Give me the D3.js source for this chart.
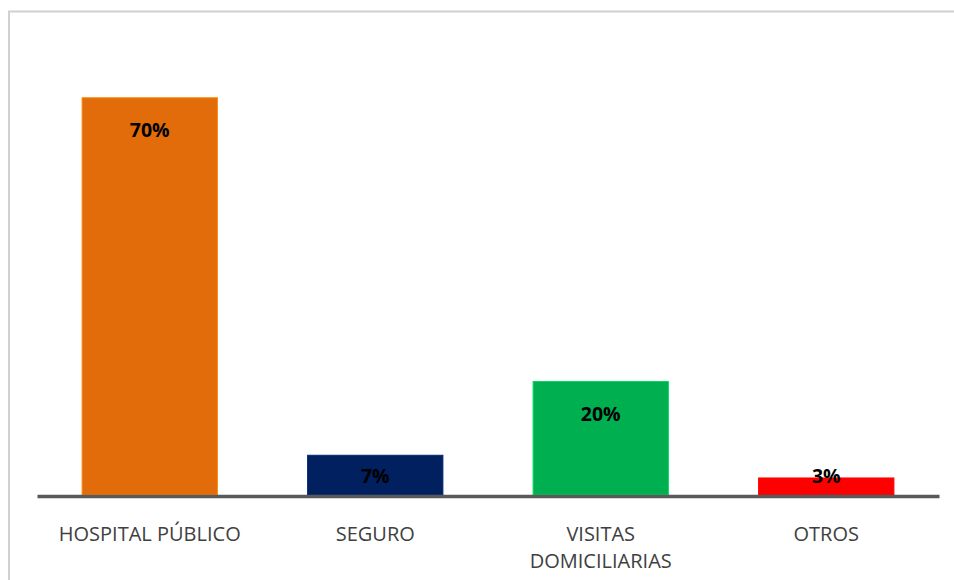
<!DOCTYPE html>
<html>
<head>
<meta charset="utf-8">
<script src="https://cdn.jsdelivr.net/npm/d3@7"></script>
<style>
  html, body { margin: 0; padding: 0; background: #fff; }
  svg { display: block; }
</style>
</head>
<body>
<svg id="chart" width="954" height="580"></svg>
<script>
// Shares of care by provider (percent)
const categories = ["HOSPITAL PÚBLICO", "SEGURO", "VISITAS DOMICILIARIAS", "OTROS"];
const categoryLines = [["HOSPITAL PÚBLICO"], ["SEGURO"], ["VISITAS", "DOMICILIARIAS"], ["OTROS"]];
const values = [70, 7, 20, 3];
const colors = ["#e36c0a", "#002060", "#00b050", "#ff0000"];
const yMax = 80;

const svg = d3.select("#chart");
const W = 954, H = 580;

// Chart area frame (open at right and bottom)
svg.append("path")
  .attr("d", `M9,${H} L9,11.5 L${W},11.5`)
  .attr("fill", "none")
  .attr("stroke", "#d0d0d0")
  .attr("stroke-width", 2);

const plotLeft = 37, plotRight = 939, baseY = 495, topY = 41;

const x = d3.scaleBand()
  .domain(categories)
  .range([plotLeft, plotRight])
  .paddingInner(0.4)
  .paddingOuter(0.2);

const y = d3.scaleLinear()
  .domain([0, yMax])
  .range([baseY, topY]);

const data = categories.map((c, i) => ({ cat: c, value: values[i], color: colors[i], lines: categoryLines[i] }));

// Bars
svg.append("g")
  .selectAll("rect")
  .data(data)
  .join("rect")
  .attr("x", d => x(d.cat))
  .attr("y", d => y(d.value))
  .attr("width", x.bandwidth())
  .attr("height", d => y(0) - y(d.value))
  .attr("fill", d => d.color)
  .attr("stroke", d => d3.color(d.color).brighter(0.6))
  .attr("stroke-width", 1);

// Baseline axis
const xAxis = d3.axisBottom(x).tickSize(0).tickFormat("");
svg.append("g")
  .attr("transform", `translate(0,${baseY + 1})`)
  .call(xAxis)
  .call(g => g.select(".domain")
    .attr("stroke", "#595959")
    .attr("stroke-width", 3.5));

// Value labels at the inner end of each bar
svg.append("g")
  .selectAll("text")
  .data(data)
  .join("text")
  .attr("x", d => x(d.cat) + x.bandwidth() / 2)
  .attr("y", d => Math.min(y(d.value) + 39, baseY - 12))
  .attr("text-anchor", "middle")
  .attr("font-family", "'Open Sans', sans-serif")
  .attr("font-weight", "bold")
  .attr("font-size", "19.5px")
  .attr("fill", "#000")
  .text(d => d.value + "%");

// Category labels
const catG = svg.append("g")
  .selectAll("text")
  .data(data)
  .join("text")
  .attr("x", d => x(d.cat) + x.bandwidth() / 2)
  .attr("y", 541)
  .attr("text-anchor", "middle")
  .attr("font-family", "'Open Sans', sans-serif")
  .attr("font-size", "20px")
  .attr("fill", "#404040");

catG.selectAll("tspan")
  .data(d => d.lines.map(l => ({ l, cx: x(d.cat) + x.bandwidth() / 2 })))
  .join("tspan")
  .attr("x", t => t.cx)
  .attr("dy", (t, i) => i === 0 ? 0 : 27)
  .text(t => t.l);
</script>
</body>
</html>
